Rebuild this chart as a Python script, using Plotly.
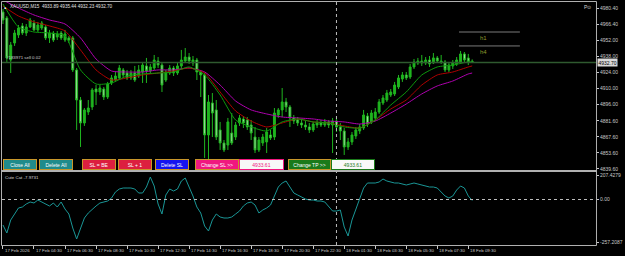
import plotly.graph_objects as go

# ---------------- data ----------------
symbol_header = "XAUUSD,M15  4933.89 4935.44 4932.23 4932.70"

open_ = [4976.9, 4971.7, 4934.9, 4949.8, 4956.8, 4964.7, 4958.5, 4963.8, 4967.3, 4961.2,
         4962.9, 4963.8, 4954.2, 4958.5, 4955.0, 4958.5, 4952.4, 4954.2, 4954.2, 4926.2,
         4899.9, 4879.8, 4889.4, 4893.8, 4909.5, 4906.9, 4909.5, 4902.5, 4914.8, 4917.4,
         4919.2, 4926.2, 4923.5, 4919.2, 4923.5, 4920.9, 4924.4, 4929.7, 4925.3, 4927.9,
         4934.0, 4930.5, 4917.4, 4923.5, 4927.9, 4923.5, 4929.7, 4934.0, 4937.5, 4932.3,
         4934.9, 4924.4, 4921.8, 4869.3, 4897.3, 4891.2, 4873.7, 4862.3, 4860.5, 4871.0,
         4867.5, 4879.8, 4883.3, 4882.4, 4878.0, 4867.5, 4856.2, 4862.3, 4863.2, 4869.3,
         4867.5, 4886.8, 4891.2, 4898.2, 4893.8, 4884.2, 4882.4, 4879.8, 4878.0, 4876.3,
         4873.7, 4878.0, 4879.8, 4878.0, 4880.7, 4878.0, 4881.5, 4876.3, 4872.8, 4858.8,
         4863.2, 4868.4, 4872.8, 4875.4, 4885.9, 4880.7, 4884.2, 4889.4, 4897.3, 4899.9,
         4904.3, 4905.2, 4911.3, 4918.3, 4921.8, 4920.0, 4928.8, 4932.3, 4934.0, 4932.3,
         4934.9, 4932.3, 4936.7, 4934.0, 4933.2, 4926.2, 4929.7, 4931.4, 4933.2, 4940.2,
         4936.7, 4933.89]
high = [4979.5, 4973.4, 4950.7, 4961.2, 4965.5, 4967.3, 4966.4, 4971.7, 4969.9, 4968.2,
        4969.0, 4965.5, 4961.2, 4960.3, 4960.3, 4960.3, 4961.2, 4955.9, 4955.9, 4927.9,
        4902.5, 4892.9, 4899.9, 4910.4, 4913.0, 4913.0, 4911.3, 4915.7, 4921.8, 4924.4,
        4930.5, 4927.9, 4926.2, 4926.2, 4929.7, 4930.5, 4933.2, 4936.7, 4931.4, 4939.3,
        4937.5, 4933.2, 4926.2, 4930.5, 4929.7, 4932.3, 4943.7, 4945.4, 4941.0, 4938.4,
        4936.7, 4926.2, 4923.5, 4904.3, 4906.0, 4899.9, 4880.7, 4864.9, 4884.2, 4888.5,
        4880.7, 4886.8, 4885.9, 4885.0, 4882.4, 4876.3, 4867.5, 4870.2, 4875.4, 4873.7,
        4892.9, 4892.9, 4910.4, 4901.7, 4895.5, 4886.8, 4885.0, 4882.4, 4881.5, 4879.8,
        4880.7, 4882.4, 4882.4, 4883.3, 4882.4, 4884.2, 4884.2, 4879.8, 4875.4, 4866.7,
        4871.9, 4876.3, 4878.9, 4891.2, 4888.5, 4891.2, 4892.9, 4900.8, 4904.3, 4908.7,
        4909.5, 4915.7, 4921.8, 4924.4, 4924.4, 4931.4, 4935.8, 4936.7, 4939.3, 4937.5,
        4938.4, 4941.0, 4938.4, 4939.3, 4934.9, 4933.2, 4934.9, 4937.5, 4942.8, 4941.9,
        4940.2, 4935.44]
low = [4966.4, 4933.2, 4923.5, 4947.2, 4954.2, 4956.8, 4955.9, 4962.9, 4960.3, 4959.4,
       4961.2, 4952.4, 4949.8, 4950.7, 4952.4, 4952.4, 4950.7, 4949.8, 4924.4, 4873.7,
       4858.8, 4877.2, 4886.8, 4891.2, 4895.5, 4904.3, 4899.9, 4900.8, 4913.0, 4915.7,
       4917.4, 4919.2, 4917.4, 4917.4, 4915.7, 4919.2, 4914.8, 4914.8, 4922.7, 4926.2,
       4927.9, 4906.9, 4915.7, 4921.8, 4920.9, 4921.8, 4927.0, 4932.3, 4931.4, 4929.7,
       4917.4, 4902.5, 4849.2, 4847.4, 4867.5, 4864.9, 4856.2, 4854.4, 4856.2, 4860.5,
       4864.9, 4877.2, 4875.4, 4873.7, 4864.9, 4853.5, 4854.4, 4859.7, 4853.5, 4864.9,
       4864.9, 4884.2, 4885.0, 4889.4, 4876.3, 4878.9, 4877.2, 4875.4, 4873.7, 4871.0,
       4871.9, 4875.4, 4876.3, 4876.3, 4875.4, 4853.5, 4871.9, 4864.9, 4851.8, 4856.2,
       4860.5, 4865.8, 4870.2, 4873.7, 4876.3, 4878.9, 4881.5, 4887.7, 4895.5, 4898.2,
       4902.5, 4903.4, 4909.5, 4915.7, 4917.4, 4918.3, 4927.0, 4930.5, 4929.7, 4930.5,
       4928.8, 4931.4, 4932.3, 4931.4, 4924.4, 4924.4, 4927.0, 4929.7, 4931.4, 4932.3,
       4930.5, 4932.23]
close = [4969.9, 4936.7, 4948.0, 4958.5, 4962.9, 4958.5, 4963.8, 4969.9, 4961.2, 4965.5,
         4967.3, 4954.2, 4958.5, 4952.4, 4957.7, 4954.2, 4957.7, 4952.4, 4926.2, 4899.9,
         4879.8, 4891.2, 4892.9, 4908.7, 4906.9, 4910.4, 4902.5, 4913.9, 4919.2, 4920.9,
         4927.9, 4921.8, 4919.2, 4923.5, 4917.4, 4926.2, 4930.5, 4925.3, 4928.8, 4934.9,
         4930.5, 4913.0, 4924.4, 4927.9, 4923.5, 4929.7, 4934.9, 4937.5, 4934.0, 4934.9,
         4924.4, 4921.8, 4869.3, 4898.2, 4888.5, 4867.5, 4862.3, 4856.2, 4880.7, 4862.3,
         4878.0, 4884.2, 4879.8, 4876.3, 4871.0, 4856.2, 4864.9, 4867.5, 4871.9, 4866.7,
         4888.5, 4891.2, 4898.2, 4893.8, 4884.2, 4881.5, 4879.8, 4878.0, 4876.3, 4873.7,
         4878.9, 4879.8, 4878.0, 4880.7, 4878.0, 4881.5, 4876.3, 4872.8, 4858.8, 4863.2,
         4869.3, 4873.7, 4876.3, 4886.8, 4878.9, 4888.5, 4889.4, 4898.2, 4901.7, 4906.0,
         4906.9, 4913.0, 4919.2, 4921.8, 4919.2, 4928.8, 4933.2, 4934.0, 4932.3, 4934.9,
         4931.4, 4936.7, 4934.0, 4933.2, 4926.2, 4930.5, 4932.3, 4934.9, 4940.2, 4934.9,
         4933.2, 4932.70]

# moving averages, read every 4 bars
ma_idx = [0, 4, 8, 12, 16, 20, 24, 28, 32, 36, 40, 44, 48, 52, 56, 60, 64, 68, 72, 76,
          80, 84, 88, 92, 96, 100, 104, 108, 112, 116, 120, 121]
ma_fast = [4983.9, 4963.8, 4959.4, 4958.5, 4955.9, 4926.2, 4913.9, 4914.8, 4920.9, 4922.7,
           4923.5, 4924.4, 4928.8, 4921.8, 4904.3, 4882.4, 4876.3, 4872.8, 4880.7, 4883.3,
           4880.7, 4879.8, 4876.3, 4875.4, 4882.4, 4895.5, 4906.9, 4921.8, 4928.8, 4930.5,
           4933.2, 4933.2]
ma_mid = [4982.2, 4973.4, 4968.2, 4964.7, 4960.3, 4943.7, 4926.2, 4917.4, 4919.2, 4921.8,
          4923.5, 4925.3, 4927.9, 4923.5, 4906.9, 4890.3, 4881.5, 4876.3, 4879.8, 4883.3,
          4880.7, 4879.8, 4877.2, 4875.4, 4882.4, 4892.0, 4899.9, 4913.0, 4921.8, 4924.4,
          4928.8, 4929.7]
ma_slow = [4987.4, 4980.4, 4974.3, 4969.9, 4966.4, 4954.2, 4935.8, 4925.3, 4924.4, 4924.4,
           4926.2, 4926.2, 4927.9, 4924.4, 4913.0, 4899.0, 4891.2, 4887.7, 4885.0, 4884.2,
           4883.3, 4881.5, 4880.7, 4878.9, 4881.5, 4888.5, 4896.4, 4905.2, 4912.2, 4916.5,
           4922.7, 4923.5]

# "Cute Cat" oscillator, one value per bar
osc = [-204, -268, -164, -116, -68, -60, -36, -20, -28, -4,
       -20, -36, -52, -28, -60, -20, -76, -116, -228, -316,
       -236, -148, -108, -76, -52, -28, -20, -12, 12, 60,
       84, 92, 92, 92, 84, 52, 52, 100, 180, 108,
       -36, -116, 36, 84, 68, 84, 148, 172, 100, 28,
       -60, -108, -212, -252, -164, -116, -140, -148, -148, -140,
       -116, -92, -52, -28, -20, -44, -108, -84, -68, -44,
       28, 100, 132, 148, 100, 52, 36, 20, 4, -4,
       -4, -12, -12, -20, -52, -92, -92, -84, -220, -292,
       -164, -76, 20, 92, 132, 132, 132, 140, 164, 148,
       140, 132, 132, 124, 116, 124, 132, 124, 116, 108,
       100, 100, 92, 60, 28, 12, 28, 76, 108, 92,
       28, -8]
osc_label = "Cute Cat -7.9731"

time_idx = [0, 8, 16, 24, 32, 40, 48, 56, 64, 72, 80, 88, 96, 104, 112, 120]
time_labels = ["17 Feb 2026", "17 Feb 04:30", "17 Feb 06:30", "17 Feb 08:30",
               "17 Feb 10:30", "17 Feb 12:30", "17 Feb 14:30", "17 Feb 16:30",
               "17 Feb 18:30", "17 Feb 20:30", "17 Feb 22:30", "18 Feb 01:30",
               "18 Feb 03:30", "18 Feb 05:30", "18 Feb 07:30", "18 Feb 09:30"]
day_sep_idx = [86]

price_ticks = [4980.40, 4966.40, 4952.00, 4938.00, 4924.00, 4910.00, 4896.00,
               4881.60, 4867.60, 4853.60, 4839.60]
price_tick_text = ["4980.40", "4966.40", "4952.00", "4938.00", "4924.00", "4910.00",
                   "4896.00", "4881.60", "4867.60", "4853.60", "4839.60"]
osc_tick_vals = [196, 0, -340]
osc_tick_text = ["207.4279", "0.00", "-257.2087"]

level_vals = [4959.4, 4947.2]
level_names = ["h1", "h4"]
level_span = [117.6, 133.3]
order_text = "#183971 sell 0.02"
sl_value = "4933.61"
tp_value = "4933.61"

# ---------------- geometry ----------------
W, H = 625, 256
ML, MR, MT, MB = 2, 21, 2, 11
PW = W - ML - MR
PH = H - MT - MB


def fx(px):
    return (px - ML) / PW


def fy(py):
    return (H - MB - py) / PH


bars = list(range(len(open_)))
FONT = "Liberation Sans"
AX_COL = "#c8c8c8"
FRAME = "#b0b0b0"

fig = go.Figure()

fig.add_trace(go.Candlestick(
    x=bars, open=open_, high=high, low=low, close=close,
    increasing=dict(line=dict(color="#1fb51f", width=1), fillcolor="#1fb51f"),
    decreasing=dict(line=dict(color="#1fb51f", width=1), fillcolor="#a9dca9"),
    whiskerwidth=0, xaxis="x", yaxis="y", hoverinfo="skip"))

for vals, col in ((ma_slow, "#b000b0"), (ma_mid, "#b00000"), (ma_fast, "#0d9a0d")):
    fig.add_trace(go.Scatter(x=ma_idx, y=vals, mode="lines",
                             line=dict(color=col, width=1, shape="spline", smoothing=0.6),
                             xaxis="x", yaxis="y", hoverinfo="skip"))

fig.add_trace(go.Scatter(x=bars, y=osc, mode="lines",
                         line=dict(color="#1a9696", width=1),
                         xaxis="x", yaxis="y2", hoverinfo="skip"))

shapes = []
shapes.append(dict(type="line", xref="paper", yref="y", x0=0, x1=1,
                   y0=close[-1], y1=close[-1], line=dict(color="#2f5a2f", width=1.5)))
for v in level_vals:
    shapes.append(dict(type="line", xref="x", yref="y", x0=level_span[0], x1=level_span[1],
                       y0=v, y1=v, line=dict(color="#7a7a7a", width=1)))
for d in day_sep_idx:
    shapes.append(dict(type="line", xref="x", yref="paper", x0=d, x1=d, y0=0, y1=1,
                       line=dict(color="#bdbdbd", width=1, dash="dot")))
shapes.append(dict(type="line", xref="paper", yref="y2", x0=0, x1=1, y0=0, y1=0,
                   line=dict(color="#bdbdbd", width=1, dash="dot")))
shapes += [
    dict(type="line", xref="paper", yref="paper", x0=fx(1.5), x1=fx(1.5), y0=fy(245.5), y1=fy(1.5),
         line=dict(color=FRAME, width=1)),
    dict(type="line", xref="paper", yref="paper", x0=fx(1.5), x1=fx(604.5), y0=fy(1.5), y1=fy(1.5),
         line=dict(color=FRAME, width=1)),
    dict(type="line", xref="paper", yref="paper", x0=fx(604.5), x1=fx(604.5), y0=fy(245.5), y1=fy(1.5),
         line=dict(color=FRAME, width=1)),
    dict(type="line", xref="paper", yref="paper", x0=fx(1.5), x1=fx(604.5), y0=fy(245.5), y1=fy(245.5),
         line=dict(color=FRAME, width=1)),
    dict(type="line", xref="paper", yref="paper", x0=fx(1.5), x1=fx(604.5), y0=fy(171), y1=fy(171),
         line=dict(color=FRAME, width=2)),
]

ann = []
small = dict(family=FONT, size=5, color=AX_COL)
ann.append(dict(xref="paper", yref="paper", x=fx(8), y=fy(1.5), xanchor="left", yanchor="top",
                text=symbol_header, showarrow=False, font=dict(family=FONT, size=4.6, color="#e0e0e0")))
ann.append(dict(xref="paper", yref="paper", x=fx(2.5), y=fy(2.5), xanchor="left", yanchor="top",
                text="▪", showarrow=False, font=dict(family=FONT, size=6, color="#ffffff")))
ann.append(dict(xref="paper", yref="paper", x=fx(590), y=fy(2), xanchor="left", yanchor="top",
                text="P⊙", showarrow=False, font=dict(family=FONT, size=5, color="#d0d0d0")))
ann.append(dict(xref="paper", yref="y", x=fx(4), y=close[-1], xanchor="left", yanchor="bottom",
                yshift=1, text=order_text, showarrow=False,
                font=dict(family=FONT, size=4.4, color="#d0d0d0")))
ann.append(dict(xref="paper", yref="y", x=fx(605), y=close[-1], xanchor="left", yanchor="middle",
                text=f"{close[-1]:.2f}", showarrow=False, bgcolor="#d8d8d8", borderpad=0.5,
                font=dict(family=FONT, size=5, color="#000000")))
for v, n in zip(level_vals, level_names):
    ann.append(dict(xref="x", yref="y", x=level_span[0] + 5.0, y=v,
                    xanchor="left", yanchor="top", yshift=-1, text=n, showarrow=False,
                    font=dict(family=FONT, size=6, color="#8e9a2c")))
ann.append(dict(xref="paper", yref="paper", x=fx(3), y=fy(173), xanchor="left", yanchor="top",
                text=osc_label, showarrow=False, font=dict(family=FONT, size=4.4, color="#d8d8d8")))
for i, t in zip(time_idx, time_labels):
    ann.append(dict(xref="x", yref="paper", x=i, y=fy(246), xanchor="left", yanchor="top",
                    xshift=0, text=t, showarrow=False, font=dict(family=FONT, size=4.4, color=AX_COL)))

buttons = [
    ("Close All", 3, 37, "#1f8b8b", "#c8962a", "#ffffff"),
    ("Delete All", 39, 73, "#1f8b8b", "#c8962a", "#ffffff"),
    ("SL = BE", 83, 117, "#dc1f3f", "#c8962a", "#ffffff"),
    ("SL + 1", 120, 154, "#dc1f3f", "#c8962a", "#ffffff"),
    ("Delete SL", 157, 191, "#1414f0", "#c8962a", "#ffffff"),
    ("Change SL >>", 198, 242, "#f0187f", "#c8962a", "#ffffff"),
    (sl_value, 242, 287, "#f8f8f8", "#f0187f", "#f0187f"),
    ("Change TP >>", 292, 335, "#1a7a1a", "#c8962a", "#ffffff"),
    (tp_value, 335, 379, "#f8f8f8", "#1a7a1a", "#1a7a1a"),
]
for txt, x0, x1, bg, bc, fc in buttons:
    ann.append(dict(xref="paper", yref="paper", x=fx(x0), y=fy(159), xanchor="left", yanchor="top",
                    width=x1 - x0 - 2, height=9, text=txt, showarrow=False, bgcolor=bg,
                    bordercolor=bc, borderwidth=1, borderpad=0, align="center", valign="middle",
                    font=dict(family=FONT, size=5, color=fc)))

fig.update_layout(
    width=W, height=H, margin=dict(l=ML, r=MR, t=MT, b=MB),
    paper_bgcolor="#000000", plot_bgcolor="#000000", showlegend=False,
    boxgap=0.3,
    xaxis=dict(domain=[0, 1], range=[-0.25, PW / 3.93 - 0.25], anchor="y2",
               showgrid=False, zeroline=False, showline=False,
               tickmode="array", tickvals=time_idx, ticks="outside", ticklen=3,
               tickcolor=AX_COL, showticklabels=False, rangeslider=dict(visible=False),
               fixedrange=True),
    yaxis=dict(domain=[fy(170), 1], range=[4987.4 - 0.875 * 170, 4987.4 - 0.875 * 2],
               side="right", anchor="x", showgrid=False, zeroline=False, showline=False,
               tickmode="array", tickvals=price_ticks, ticktext=price_tick_text,
               ticks="outside", ticklen=2, tickcolor=AX_COL, tickfont=small),
    yaxis2=dict(domain=[0, fy(172)], range=[-364, 220], side="right", anchor="x",
                showgrid=False, zeroline=False, showline=False,
                tickmode="array", tickvals=osc_tick_vals, ticktext=osc_tick_text,
                ticks="outside", ticklen=2, tickcolor=AX_COL, tickfont=small),
    shapes=shapes, annotations=ann,
)

fig.write_html("out.html", config={"displayModeBar": False, "staticPlot": True})
